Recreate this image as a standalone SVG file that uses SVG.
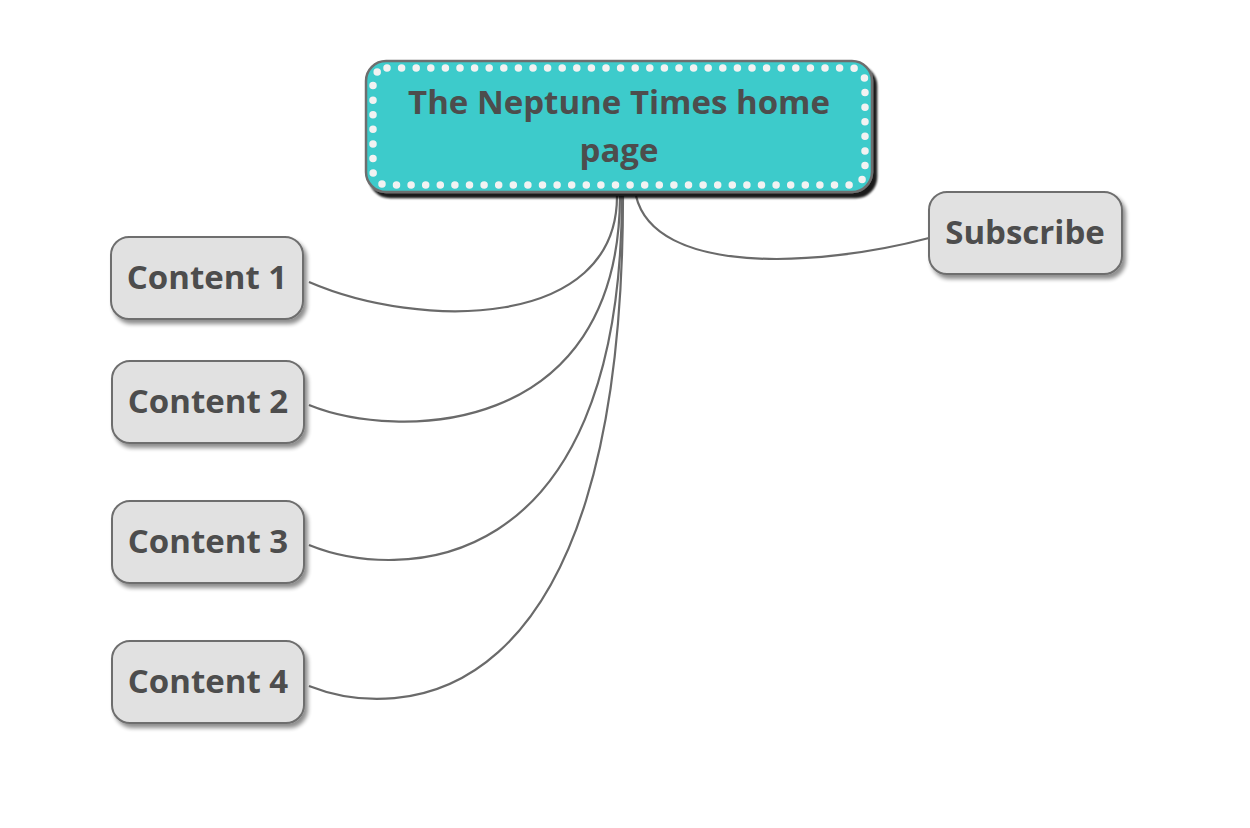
<svg xmlns="http://www.w3.org/2000/svg" width="1250" height="828" viewBox="0 0 1250 828">
<defs>
<filter id="soft" x="-20%" y="-20%" width="140%" height="150%">
<feGaussianBlur in="SourceAlpha" stdDeviation="2"/>
<feOffset dx="3" dy="4" result="b"/>
<feComponentTransfer><feFuncA type="linear" slope="0.45"/></feComponentTransfer>
<feMerge><feMergeNode/><feMergeNode in="SourceGraphic"/></feMerge>
</filter>
<filter id="hard" x="-10%" y="-10%" width="120%" height="130%">
<feGaussianBlur in="SourceAlpha" stdDeviation="1.2"/>
<feOffset dx="4" dy="5" result="b"/>
<feComponentTransfer><feFuncA type="linear" slope="0.9"/></feComponentTransfer>
<feMerge><feMergeNode/><feMergeNode in="SourceGraphic"/></feMerge>
</filter>
</defs>
<style>
.t{font-family:"Open Sans","Liberation Sans",sans-serif;font-weight:bold;fill:#4d4d4d;text-anchor:middle}
.sub{fill:#e1e1e1;stroke:#6e6e6e;stroke-width:2}
.edge{fill:none;stroke:#6a6a6a;stroke-width:2.2}
</style>
<rect width="1250" height="828" fill="#ffffff"/>
<g id="connectors">
<path class="edge" d="M309,282 C420,330 617,330 617,196"/>
<path class="edge" d="M309,405 C395,440 619,440 620,196"/>
<path class="edge" d="M309,545 C395,580 621,585 622,196"/>
<path class="edge" d="M309,686 C395,720 623,725 623,196"/>
<path class="edge" d="M636,196 C655,275 815,268 929,238"/>
</g>
<g id="main">
<rect x="366" y="61" width="506" height="131" rx="20" fill="#3ecbcb" stroke="#6e6e6e" stroke-width="2.5" filter="url(#hard)"/>
<rect x="373" y="68" width="492" height="117" rx="14" fill="none" stroke="#f2f2f2" stroke-width="7.5" stroke-linecap="round" stroke-dasharray="0 14.6"/>
<text class="t" x="619" y="114" font-size="33">The Neptune Times home</text>
<text class="t" x="619" y="162" font-size="33">page</text>
</g>
<g id="content1">
<rect class="sub" x="111" y="237" width="192" height="82" rx="18" filter="url(#soft)"/>
<text class="t" x="207" y="289" font-size="33">Content 1</text>
</g>
<g id="content2">
<rect class="sub" x="112" y="361" width="192" height="82" rx="18" filter="url(#soft)"/>
<text class="t" x="208" y="413" font-size="33">Content 2</text>
</g>
<g id="content3">
<rect class="sub" x="112" y="501" width="192" height="82" rx="18" filter="url(#soft)"/>
<text class="t" x="208" y="553" font-size="33">Content 3</text>
</g>
<g id="content4">
<rect class="sub" x="112" y="641" width="192" height="82" rx="18" filter="url(#soft)"/>
<text class="t" x="208" y="693" font-size="33">Content 4</text>
</g>
<g id="subscribe">
<rect class="sub" x="929" y="192" width="193" height="82" rx="18" filter="url(#soft)"/>
<text class="t" x="1025" y="244" font-size="33">Subscribe</text>
</g>
</svg>
